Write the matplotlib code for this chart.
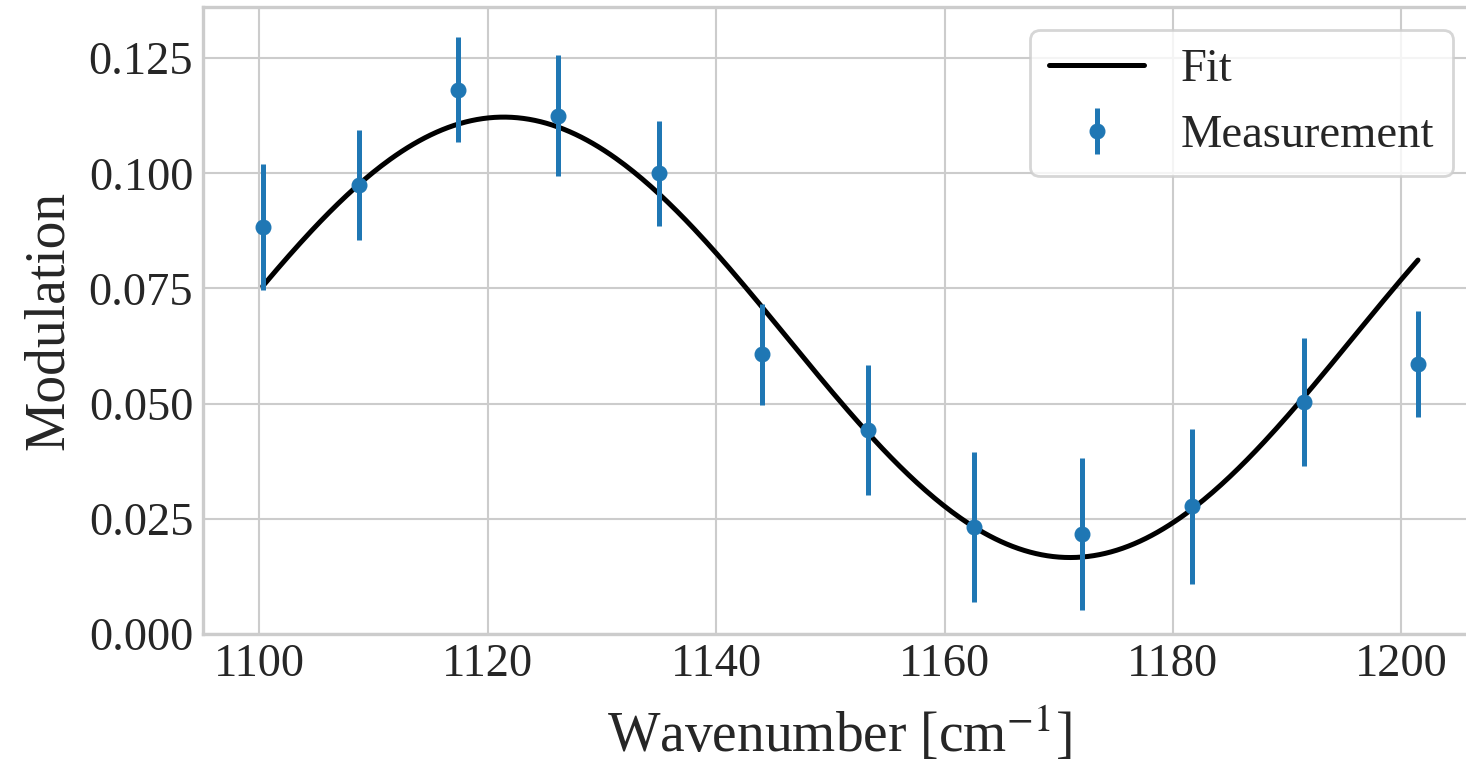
import numpy as np
import matplotlib
matplotlib.use("Agg")
import matplotlib.pyplot as plt

# ---- data ----
wavenumber = [1100.30, 1108.70, 1117.40, 1126.13, 1135.03, 1144.02,
              1153.27, 1162.58, 1172.07, 1181.70, 1191.48, 1201.46]
modulation = [0.0883, 0.0975, 0.1181, 0.1125, 0.1000, 0.0607,
              0.0443, 0.0232, 0.0217, 0.0277, 0.0503, 0.0587]
mod_err = [0.0137, 0.0120, 0.0114, 0.0131, 0.0114, 0.0110,
           0.0141, 0.0163, 0.0164, 0.0168, 0.0139, 0.0115]

# sinusoidal fit parameters
fit_offset = 0.0644
fit_amplitude = 0.0478
fit_peak_position = 1121.4
fit_period = 99.2

x_ticks = [1100, 1120, 1140, 1160, 1180, 1200]
y_ticks = [0.000, 0.025, 0.050, 0.075, 0.100, 0.125]

# ---- style ----
plt.rcParams['font.family'] = ['Liberation Serif', 'DejaVu Serif']
plt.rcParams['mathtext.fontset'] = 'stix'
text_color = '#262626'
grid_color = '#cccccc'

W, H = 1466, 772
fig = plt.figure(figsize=(W / 100, H / 100), dpi=100)
left_px, right_px, top_px, bottom_px = 203, 1476, 7, 634
ax = fig.add_axes([left_px / W, 1 - bottom_px / H,
                   (right_px - left_px) / W, (bottom_px - top_px) / H])

xs = np.linspace(wavenumber[0], wavenumber[-1], 400)
fit_curve = fit_offset + fit_amplitude * np.cos(2 * np.pi * (xs - fit_peak_position) / fit_period)

ax.plot(xs, fit_curve, color='black', lw=3.6, solid_capstyle='round', label='Fit', zorder=2)
ax.errorbar(wavenumber, modulation, yerr=mod_err, fmt='o', color='#1f77b4',
            ms=10.5, elinewidth=3.6, capsize=0, label='Measurement', zorder=3)

ax.set_xlim(1095.07, 1206.54)
ax.set_ylim(0, 0.1361)
ax.set_xticks(x_ticks)
ax.set_xticklabels([str(t) for t in x_ticks])
ax.set_yticks(y_ticks)
ax.set_yticklabels([f"{t:.3f}" for t in y_ticks])

ax.grid(True, color=grid_color, lw=1.5)
ax.set_axisbelow(True)
for s in ax.spines.values():
    s.set_color(grid_color)
    s.set_linewidth(2.4)
ax.tick_params(axis='both', length=0, pad=7, labelsize=33.5, colors=text_color)

ax.set_xlabel('Wavenumber [cm$^{-1}$]', fontsize=40, color=text_color, labelpad=13)
ax.set_ylabel('Modulation', fontsize=40, color=text_color, labelpad=10)

leg = ax.legend(loc='upper right', fontsize=33.5, handlelength=2.05, handletextpad=0.78,
                labelspacing=0.5, frameon=True, fancybox=True, framealpha=0.8)
leg.get_frame().set_edgecolor(grid_color)
leg.get_frame().set_linewidth(2)
for t in leg.get_texts():
    t.set_color(text_color)

fig.savefig('out.png', dpi=100)
